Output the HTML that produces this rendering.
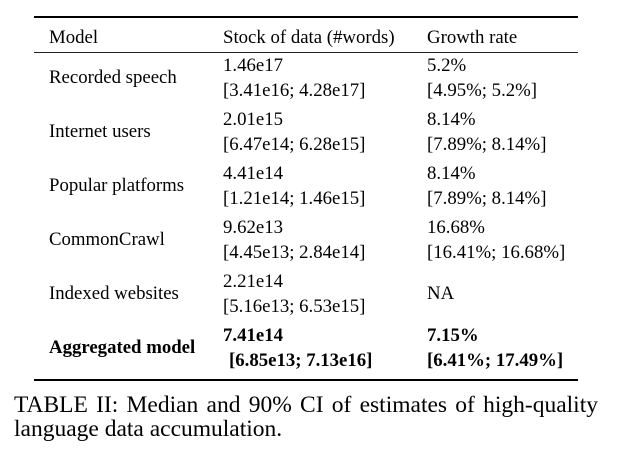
<!DOCTYPE html>
<html>
<head>
<meta charset="utf-8">
<style>
  html, body { margin:0; padding:0; background:#fff; }
  body { width:620px; height:457px; position:relative; overflow:hidden;
         font-family:"Liberation Serif", "DejaVu Serif", serif; color:#000; }
  .t { position:absolute; font-size:18.8px; line-height:0; height:0; white-space:pre; }
  .b { font-weight:bold; }
  .r { position:absolute; background:#000; }
  .cap { position:absolute; left:14px; top:392.8px; width:584px; font-size:23.5px;
         line-height:24.5px; text-align:justify; text-align-last:left; }
</style>
</head>
<body>
  <!-- rules -->
  <div class="r" style="left:34px; width:544px; top:16px; height:1.6px;"></div>
  <div class="r" style="left:34px; width:544px; top:52px; height:1px; background:#222;"></div>
  <div class="r" style="left:34px; width:544px; top:379px; height:1.6px;"></div>

  <!-- header -->
  <div class="t" style="left:49px; top:37.65px;">Model</div>
  <div class="t" style="left:223px; top:37.65px;">Stock of data (#words)</div>
  <div class="t" style="left:427px; top:37.65px;">Growth rate</div>

  <!-- Recorded speech -->
  <div class="t" style="left:49px; top:78.15px;">Recorded speech</div>
  <div class="t" style="left:223px; top:65.65px;">1.46e17</div>
  <div class="t" style="left:223px; top:90.65px;">[3.41e16; 4.28e17]</div>
  <div class="t" style="left:427px; top:65.65px;">5.2%</div>
  <div class="t" style="left:427px; top:90.65px;">[4.95%; 5.2%]</div>

  <!-- Internet users -->
  <div class="t" style="left:49px; top:132.15px;">Internet users</div>
  <div class="t" style="left:223px; top:119.65px;">2.01e15</div>
  <div class="t" style="left:223px; top:144.65px;">[6.47e14; 6.28e15]</div>
  <div class="t" style="left:427px; top:119.65px;">8.14%</div>
  <div class="t" style="left:427px; top:144.65px;">[7.89%; 8.14%]</div>

  <!-- Popular platforms -->
  <div class="t" style="left:49px; top:186.15px;">Popular platforms</div>
  <div class="t" style="left:223px; top:173.65px;">4.41e14</div>
  <div class="t" style="left:223px; top:198.65px;">[1.21e14; 1.46e15]</div>
  <div class="t" style="left:427px; top:173.65px;">8.14%</div>
  <div class="t" style="left:427px; top:198.65px;">[7.89%; 8.14%]</div>

  <!-- CommonCrawl -->
  <div class="t" style="left:49px; top:240.15px;">CommonCrawl</div>
  <div class="t" style="left:223px; top:227.65px;">9.62e13</div>
  <div class="t" style="left:223px; top:252.65px;">[4.45e13; 2.84e14]</div>
  <div class="t" style="left:427px; top:227.65px;">16.68%</div>
  <div class="t" style="left:427px; top:252.65px;">[16.41%; 16.68%]</div>

  <!-- Indexed websites -->
  <div class="t" style="left:49px; top:294.15px;">Indexed websites</div>
  <div class="t" style="left:223px; top:281.65px;">2.21e14</div>
  <div class="t" style="left:223px; top:306.65px;">[5.16e13; 6.53e15]</div>
  <div class="t" style="left:427px; top:294.15px;">NA</div>

  <!-- Aggregated model -->
  <div class="t b" style="left:49px; top:348.15px;">Aggregated model</div>
  <div class="t b" style="left:223px; top:335.65px;">7.41e14</div>
  <div class="t b" style="left:229px; top:360.65px;">[6.85e13; 7.13e16]</div>
  <div class="t b" style="left:427px; top:335.65px;">7.15%</div>
  <div class="t b" style="left:427px; top:360.65px;">[6.41%; 17.49%]</div>

  <!-- caption -->
  <div class="cap">TABLE II: Median and 90% CI of estimates of high-quality language data accumulation.</div>
</body>
</html>
